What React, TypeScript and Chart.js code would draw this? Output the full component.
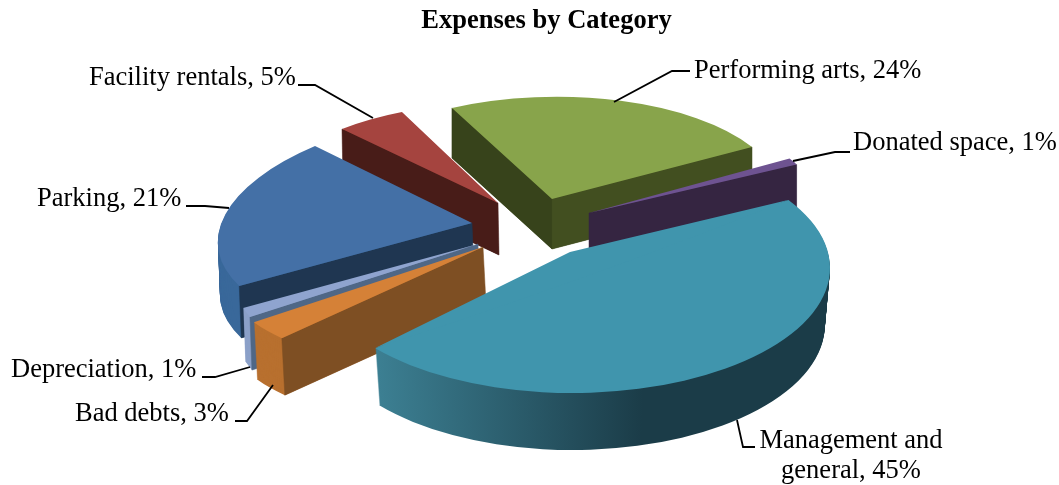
import React, { useEffect, useRef } from "react";
import { Chart, registerables } from "chart.js";

Chart.register(...registerables);

const categories = [
  "Performing arts",
  "Donated space",
  "Management and general",
  "Bad debts",
  "Depreciation",
  "Parking",
  "Facility rentals",
];
const shares = [24, 1, 45, 3, 1, 21, 5];
const titleText = "Expenses by Category";

const topColors = ["#88a44b", "#6e5391", "#4095ad", "#d58137", "#8fa4cf", "#4470a6", "#a5443f"];
const SERIF = "'Liberation Serif', 'Times New Roman', serif";

type View = { a: number; b: number; c: number; d: number; e: number; f: number; pad?: [number, number] };
type Look = {
  view: View;
  patch?: View;
  depth: [number, number];
  shrink?: number;
  rim: string;
  rimStops?: [number, number, string, string];
  startWall?: string;
  endWall?: string;
};

// Projection of each slice of the tilted, exploded pie (one per category, same order).
const looks: Look[] = [
  { view: { a: 229.6, b: -4.7, c: 0, d: 102.2, e: 552, f: 199 }, depth: [0, 50], rim: "#3f4c20", startWall: "#37431b", endWall: "#424f20" },
  { view: { a: 233, b: 0, c: 1, d: 109, e: 589, f: 213 }, depth: [0, 50], rim: "#352541", endWall: "#352541" },
  {
    view: { a: 257.5, b: 0, c: 0, d: 125, e: 572.5, f: 268, pad: [-6, 5] },
    patch: { a: 35, b: -411.6, c: 17.6, d: 149, e: 570, f: 252, pad: [0, -102] },
    depth: [0, 57],
    shrink: 0.02,
    rim: "#1b3c48",
    rimStops: [377, 643, "#3c7f92", "#1b3c48"],
  },
  { view: { a: 261.5, b: -23, c: -10, d: 119, e: 483, f: 247 }, depth: [3, 57], rim: "#b8702f", startWall: "#7e4f23" },
  { view: { a: 254, b: -32, c: 19, d: 158, e: 478, f: 244 }, depth: [2, 53], rim: "#8ba0c8", startWall: "#4f6786" },
  { view: { a: 252.4, b: -30.4, c: -5.5, d: 114.3, e: 472, f: 223 }, depth: [2, 52], rim: "#39689a", startWall: "#1f3651" },
  { view: { a: 230, b: -9.4, c: 5.2, d: 99.4, e: 498, f: 203 }, depth: [1, 52], rim: "#481c18", startWall: "#481c18" },
];

// Back-to-front painting order.
const paintOrder = [0, 6, 1, 5, 4, 3, 2];

// Label text anchor plus leader line for each category.
const labelLayout = [
  { x: 694, y: 78, wrap: 0, leader: [[690, 71], [672, 71], [614, 102]] },
  { x: 853, y: 150, wrap: 0, leader: [[850, 152], [835, 152], [793, 161]] },
  { x: 851, y: 448, wrap: 2, leader: [[755, 447], [743, 447], [737, 420]] },
  { x: 75, y: 421, wrap: 0, leader: [[235, 421], [247, 421], [273, 385]] },
  { x: 11, y: 377, wrap: 0, leader: [[202, 377], [215, 377], [250, 367]] },
  { x: 37, y: 206, wrap: 0, leader: [[186, 206], [205, 206], [229, 208]] },
  { x: 89, y: 85, wrap: 0, leader: [[298, 85], [315, 85], [373, 118]] },
];

function drawArc(ctx: any, arc: any, v: View, dx: number, dy: number, fill: any, xScale = 1) {
  const R = arc.outerRadius;
  const s0 = arc.startAngle;
  const e0 = arc.endAngle;
  const opts = arc.options;
  const pad = v.pad || [0, 0];
  arc.startAngle = s0 + (pad[0] * Math.PI) / 180;
  arc.endAngle = e0 + (pad[1] * Math.PI) / 180;
  arc.circumference = arc.endAngle - arc.startAngle;
  arc.options = { ...opts, backgroundColor: fill, borderColor: fill, borderWidth: 0 };
  ctx.save();
  ctx.translate(v.e + dx, v.f + dy);
  ctx.transform((v.a * xScale) / R, v.c / R, (v.b * xScale) / R, v.d / R, 0, 0);
  ctx.translate(-arc.x, -arc.y);
  arc.draw(ctx);
  ctx.restore();
  arc.startAngle = s0;
  arc.endAngle = e0;
  arc.circumference = e0 - s0;
  arc.options = opts;
}

function drawWall(ctx: any, arc: any, v: View, angle: number, depth: [number, number], color: string) {
  const X = Math.cos(angle);
  const Y = Math.sin(angle);
  const px = v.e + v.a * X + v.b * Y;
  const py = v.f + v.c * X + v.d * Y;
  ctx.save();
  ctx.fillStyle = color;
  ctx.strokeStyle = color;
  ctx.lineWidth = 0.5;
  ctx.beginPath();
  ctx.moveTo(v.e, v.f);
  ctx.lineTo(px, py);
  ctx.lineTo(px + depth[0], py + depth[1]);
  ctx.lineTo(v.e + depth[0], v.f + depth[1]);
  ctx.closePath();
  ctx.fill();
  ctx.stroke();
  ctx.restore();
}

const solidPie = {
  id: "solidPie",
  beforeDatasetsDraw(chart: any) {
    const ctx = chart.ctx;
    const arcs = chart.getDatasetMeta(0).data;
    for (const i of paintOrder) {
      const arc = arcs[i];
      const look = looks[i];
      const v = look.view;
      let rimFill: any = look.rim;
      if (look.rimStops) {
        const [x0, x1, c0, c1] = look.rimStops;
        const R = arc.outerRadius;
        const toLocal = (sx: number) => arc.x + ((sx - v.e - look.depth[0]) / v.a) * R;
        const g = ctx.createLinearGradient(toLocal(x0), 0, toLocal(x1), 0);
        g.addColorStop(0, c0);
        g.addColorStop(1, c1);
        rimFill = g;
      }
      const steps = Math.ceil(look.depth[1]);
      for (let s = steps; s >= 1; s--) {
        const t = s / steps;
        drawArc(ctx, arc, v, look.depth[0] * t, look.depth[1] * t, rimFill, 1 - (look.shrink || 0) * t);
      }
      if (look.startWall) drawWall(ctx, arc, v, arc.startAngle, look.depth, look.startWall);
      if (look.endWall) drawWall(ctx, arc, v, arc.endAngle, look.depth, look.endWall);
      const top = arc.options.backgroundColor;
      drawArc(ctx, arc, v, 0, 0, top);
      if (look.patch) drawArc(ctx, arc, look.patch, 0, 0, top);
    }
    return false;
  },
  afterDraw(chart: any) {
    const ctx = chart.ctx;
    ctx.save();
    ctx.font = `26.5px ${SERIF}`;
    ctx.fillStyle = "#000";
    ctx.strokeStyle = "#000";
    ctx.lineWidth = 1.8;
    ctx.textBaseline = "alphabetic";
    categories.forEach((name, i) => {
      const layout = labelLayout[i];
      ctx.beginPath();
      layout.leader.forEach(([x, y], k) => (k ? ctx.lineTo(x, y) : ctx.moveTo(x, y)));
      ctx.stroke();
      const text = `${name}, ${shares[i]}%`;
      if (layout.wrap) {
        const words = text.split(" ");
        ctx.textAlign = "center";
        ctx.fillText(words.slice(0, layout.wrap).join(" "), layout.x, layout.y);
        ctx.fillText(words.slice(layout.wrap).join(" "), layout.x, layout.y + 30);
      } else {
        ctx.textAlign = "left";
        ctx.fillText(text, layout.x, layout.y);
      }
    });
    ctx.restore();
  },
};

export default function App() {
  const ref = useRef<HTMLCanvasElement>(null);
  useEffect(() => {
    const chart = new Chart(ref.current!, {
      type: "pie",
      data: {
        labels: categories,
        datasets: [{ data: shares, backgroundColor: topColors, borderWidth: 0 }],
      },
      options: {
        animation: false,
        responsive: false,
        devicePixelRatio: 1,
        events: [],
        rotation: -27,
        layout: { padding: { left: 34, top: 5 } },
        plugins: {
          legend: { display: false },
          tooltip: { enabled: false },
          title: {
            display: true,
            text: titleText,
            color: "#000",
            font: { family: SERIF, size: 26.5, weight: "bold" },
            padding: { top: 0, bottom: 10 },
          },
        },
      },
      plugins: [solidPie],
    } as any);
    return () => chart.destroy();
  }, []);
  return (
    <div style={{ position: "fixed", left: 0, top: 0, width: 1059, height: 485, background: "#fff" }}>
      <canvas ref={ref} width={1059} height={485} style={{ display: "block" }} />
    </div>
  );
}
